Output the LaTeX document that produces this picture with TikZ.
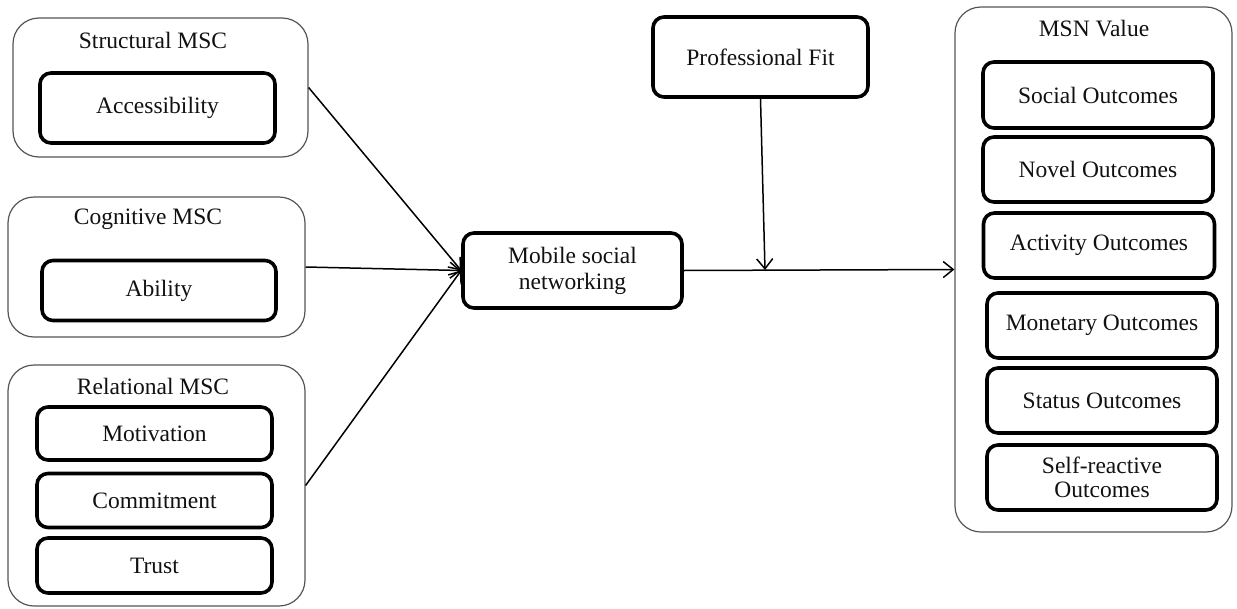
\documentclass[tikz,border=0pt]{standalone}
\usepackage{fontspec}
\setmainfont{Liberation Serif}
\usetikzlibrary{arrows.meta}
\definecolor{txt}{HTML}{111111}
\definecolor{outer}{HTML}{555555}
\begin{document}
\begin{tikzpicture}[x=1pt,y=-1pt,
  every node/.style={font=\fontsize{23.5}{28}\selectfont, text=txt},
  group/.style={draw=outer, line width=1.2pt, rounded corners=26pt, minimum width=#1, inner sep=0pt},
  item/.style={draw=black, line width=3.6pt, rounded corners=11pt, inner sep=0pt, align=center},
  title/.style={inner sep=0pt},
  conn/.style={draw=black, line width=1.5pt},
  arr/.style={conn, -{Straight Barb[length=10pt,width=16pt,line width=1.5pt]}}
]
\useasboundingbox (0,0) rectangle (1237,608);
\fill[white] (0,0) rectangle (1237,608);

% Structural MSC
\node[group=295pt, minimum height=139pt] (struct) at (160.5,87.5) {};
\node[title] (structT) at (153,40) {Structural MSC};
\node[item, minimum width=235pt, minimum height=70pt] (acc) at (157.5,108) {Accessibility};

% Cognitive MSC
\node[group=297pt, minimum height=140pt] (cog) at (156.5,267) {};
\node[title] (cogT) at (148,219) {Cognitive MSC};
\node[item, minimum width=234pt, minimum height=60pt] (abil) at (159,290.5) {Ability};

% Relational MSC
\node[group=297pt, minimum height=241pt] (rel) at (156.5,485.5) {};
\node[title] (relT) at (153,386) {Relational MSC};
\node[item, minimum width=235pt, minimum height=53pt] (mot) at (154.5,433.5) {Motivation};
\node[item, minimum width=235pt, minimum height=54pt] (com) at (154.5,500.5) {Commitment};
\node[item, minimum width=235pt, minimum height=55pt] (tru) at (154.5,565.5) {Trust};

% Mobile social networking
\node[item, minimum width=219pt, minimum height=75pt] (msn) at (572.5,270.5) {Mobile social\\[-2pt]networking};

% Professional Fit
\node[item, minimum width=215pt, minimum height=80pt] (pf) at (760.5,57) {Professional Fit};

% MSN Value
\node[group=277pt, minimum height=525pt] (val) at (1093.5,269.5) {};
\node[title] (valT) at (1094,29) {MSN Value};
\node[item, minimum width=230pt, minimum height=66pt] (soc) at (1098,95) {Social Outcomes};
\node[item, minimum width=230pt, minimum height=65pt] (nov) at (1098,169.5) {Novel Outcomes};
\node[item, minimum width=231pt, minimum height=65pt] (act) at (1099,245.5) {Activity Outcomes};
\node[item, minimum width=230pt, minimum height=65pt] (mon) at (1102,325.5) {Monetary Outcomes};
\node[item, minimum width=230pt, minimum height=65pt] (sta) at (1102,400.5) {Status Outcomes};
\node[item, minimum width=230pt, minimum height=65pt] (self) at (1102,477.5) {Self-reactive\\[-4pt]Outcomes};

% connectors
\draw[arr] (struct.east) -- (msn.west);
\draw[arr] (cog.east) -- (msn.west);
\draw[arr] (rel.east) -- (msn.west);
\draw[arr] (msn.east) -- (val.west);
\coordinate (mod) at (765,270);
\draw[arr] (pf.south) -- (mod);
\end{tikzpicture}
\end{document}
